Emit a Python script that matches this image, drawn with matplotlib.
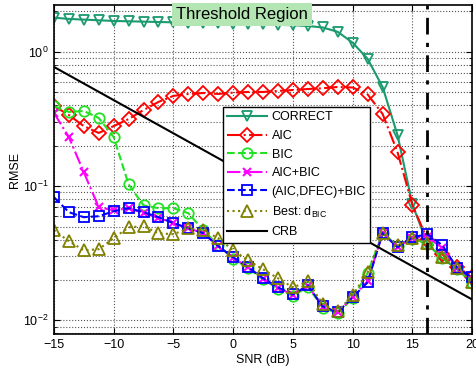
import matplotlib
matplotlib.use('Agg')
import matplotlib.pyplot as plt
from matplotlib.ticker import LogLocator, NullFormatter

plt.rcParams['font.family'] = ['Liberation Sans', 'DejaVu Sans']
plt.rcParams['mathtext.fontset'] = 'custom'
plt.rcParams['mathtext.rm'] = 'Liberation Sans'
plt.rcParams['mathtext.it'] = 'Liberation Sans:italic'

snr = [-15 + 1.25 * i for i in range(29)]

correct = [1.80, 1.76, 1.74, 1.72, 1.70, 1.69, 1.68, 1.67, 1.66, 1.65, 1.64, 1.63,
           1.62, 1.61, 1.60, 1.59, 1.58, 1.56, 1.52, 1.41, 1.17, 0.887, 0.548, 0.240,
           0.073, 0.037, 0.029, 0.024, 0.0195]

aic = [0.395, 0.339, 0.280, 0.249, 0.280, 0.316, 0.369, 0.424, 0.470, 0.486, 0.494, 0.486,
       0.497, 0.503, 0.503, 0.512, 0.520, 0.529, 0.536, 0.548, 0.543, 0.482, 0.345, 0.179,
       0.072, 0.040, 0.031, 0.025, 0.021]

bic = [0.395, 0.357, 0.363, 0.322, 0.232, 0.103, 0.072, 0.0685, 0.0685, 0.0629, 0.047, 0.0363,
       0.0288, 0.0245, 0.0202, 0.0172, 0.0152, 0.0178, 0.0124, 0.0113, 0.0146, 0.0225,
       0.0446, 0.0358, 0.0405, 0.0372, 0.0292, 0.0240, 0.0190]

aic_bic = [0.351, 0.232, 0.127, 0.0697, 0.066, 0.0685, 0.063, 0.058, 0.053, 0.0486, 0.0446, 0.036,
           0.0293, 0.0248, 0.0205, 0.0175, 0.0155, 0.0181, 0.0126, 0.0115, 0.0149, 0.0195,
           0.0446, 0.0352, 0.0412, 0.0420, 0.0345, 0.0244, 0.0205]

aic_dfec_bic = [0.0828, 0.064, 0.0587, 0.0597, 0.065, 0.0685, 0.064, 0.0587, 0.053, 0.0486,
                0.0446, 0.0357, 0.0295, 0.0249, 0.0206, 0.0176, 0.0156, 0.0182, 0.0127, 0.0115,
                0.0149, 0.0192, 0.0446, 0.0351, 0.0416, 0.0438, 0.0363, 0.0244, 0.0209]

best_dbic = [0.0470, 0.0389, 0.0333, 0.0339, 0.0409, 0.0494, 0.0503, 0.0446, 0.0438, 0.0486,
             0.0470, 0.0409, 0.0333, 0.0280, 0.0240, 0.0206, 0.0176, 0.0195, 0.0132, 0.0117,
             0.0154, 0.0228, 0.0446, 0.0363, 0.0409, 0.0376, 0.0295, 0.0244, 0.0192]

crb_snr = [-15, 0, 20]
crb = [0.773, 0.140, 0.0143]

threshold_snr = 16.25

fig = plt.figure(figsize=(4.77, 3.75), dpi=100, facecolor='white')
ax = fig.add_axes([0.113, 0.109, 0.877, 0.878])

ax.plot(snr, correct, '-', color='#1b9a6e', lw=1.5, marker='v', ms=7, mfc='none',
        mew=1.3, label='CORRECT')
ax.plot(snr, aic, '-.', color='red', lw=1.5, marker='D', ms=7, mfc='none',
        mew=1.3, label='AIC')
ax.plot(snr, bic, '--', color='#22e022', lw=1.5, marker='o', ms=7.5, mfc='none',
        mew=1.3, label='BIC')
ax.plot(snr, aic_bic, '-.', color='magenta', lw=1.5, marker='x', ms=6, mew=1.5,
        label='AIC+BIC')
ax.plot(snr, aic_dfec_bic, '--', color='blue', lw=1.5, marker='s', ms=6.5, mfc='none',
        mew=1.3, label='(AIC,DFEC)+BIC')
ax.plot(snr, best_dbic, ':', color='#808000', lw=1.5, marker='^', ms=8, mfc='none',
        mew=1.3, label='Best: d$_{\\mathrm{BIC}}$')
ax.plot(crb_snr, crb, '-', color='black', lw=1.5, label='CRB')
ax.axvline(threshold_snr, color='black', ls=(0, (6, 3, 1.5, 3)), lw=2)

ax.set_yscale('log')
ax.set_xlim(-15, 20)
ax.set_ylim(0.0079, 2.24)
ax.set_xticks([-15, -10, -5, 0, 5, 10, 15, 20])
ax.set_xticklabels(['\u221215', '\u221210', '\u22125', '0', '5', '10', '15', '20'])
ax.yaxis.set_major_locator(LogLocator(base=10, numticks=10))
ax.yaxis.set_minor_locator(LogLocator(base=10, subs=range(2, 10), numticks=10))
ax.yaxis.set_minor_formatter(NullFormatter())

ax.grid(True, which='major', ls=':', color='#555555', lw=0.8)
ax.grid(True, which='minor', axis='y', ls=':', color='#555555', lw=0.8)
ax.tick_params(which='both', direction='in', top=True, right=True, labelsize=9)
ax.tick_params(which='major', length=4)
ax.tick_params(which='minor', length=2)
for s in ax.spines.values():
    s.set_linewidth(1.2)

ax.set_xlabel('SNR (dB)', fontsize=9, labelpad=2)
ax.set_ylabel('RMSE', fontsize=9, labelpad=2)

ax.text(0.75, 1.89, 'Threshold Region', fontsize=12, ha='center', va='center',
        bbox=dict(facecolor='#b3e6b3', edgecolor='none', pad=3), zorder=5, clip_on=False)

leg = ax.legend(loc='upper left', bbox_to_anchor=(0.404, 0.69), borderaxespad=0,
                fontsize=9, numpoints=1, handlelength=3.2, handletextpad=0.35,
                labelspacing=0.53, fancybox=False, framealpha=1, edgecolor='black',
                borderpad=0.35)
leg.get_frame().set_linewidth(1.0)

fig.savefig('out.png', dpi=100, facecolor='white')
